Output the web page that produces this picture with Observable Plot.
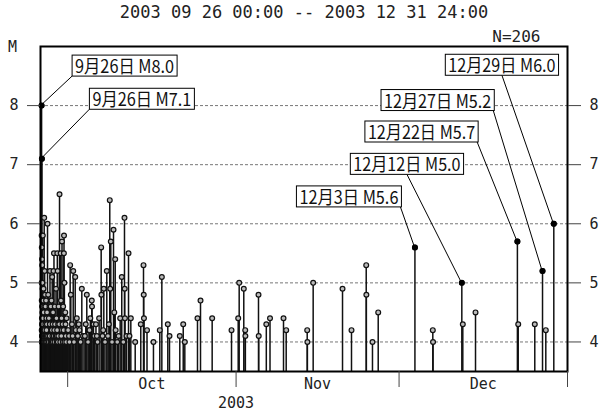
<!DOCTYPE html>
<html><head><meta charset="utf-8">
<script src="https://cdn.jsdelivr.net/npm/d3@7"></script>
<script src="https://cdn.jsdelivr.net/npm/@observablehq/plot@0.6"></script>
<style>body{margin:0;background:#fff} svg{display:block}</style>
</head><body><div id="chart"></div>
<script>
// ---------- data ----------
const titleText = "2003 09 26 00:00 -- 2003 12 31 24:00";
const countText = "N=206";
const yLabel = "M";
const xStart = "2003-09-26T00:00";
const xEnd = "2004-01-01T00:00";
const magTicks = [4, 5, 6, 7, 8];
const monthTickTimes = ["2003-10-01T00:00", "2003-11-01T00:00", "2003-12-01T00:00", "2004-01-01T00:00"];
const monthNames = ["Oct", "Nov", "Dec"];
const monthLabelTimes = ["2003-10-16T12:00", "2003-11-16T00:00", "2003-12-16T12:00"];
const yearLabel = ["2003"];
const yearLabelTime = ["2003-11-01T00:00"];

const quakes = [
["2003-09-26T04:50",8.0],["2003-09-26T05:05",5.8],["2003-09-26T05:15",5.0],["2003-09-26T05:30",4.7],
["2003-09-26T05:45",5.6],["2003-09-26T06:08",7.1],["2003-09-26T06:20",4.4],["2003-09-26T06:40",5.4],
["2003-09-26T07:00",4.6],["2003-09-26T07:20",5.3],["2003-09-26T07:50",4.3],["2003-09-26T08:10",5.0],
["2003-09-26T08:40",4.5],["2003-09-26T09:10",4.9],["2003-09-26T09:40",4.1],["2003-09-26T10:10",5.8],
["2003-09-26T11:00",4.4],["2003-09-26T11:40",4.7],["2003-09-26T12:30",4.2],["2003-09-26T13:20",4.9],
["2003-09-26T14:10",4.5],["2003-09-26T15:00",4.3],["2003-09-26T16:20",6.1],["2003-09-26T17:00",4.6],
["2003-09-26T17:40",4.1],["2003-09-26T18:20",5.2],["2003-09-26T19:10",4.4],["2003-09-26T20:00",4.8],
["2003-09-26T21:00",4.2],["2003-09-26T22:00",4.6],["2003-09-26T23:10",4.3],
["2003-09-26T05:20",4.2],["2003-09-26T05:50",4.0],["2003-09-26T06:30",4.1],["2003-09-26T06:50",4.3],
["2003-09-26T07:10",4.0],["2003-09-26T07:35",4.2],["2003-09-26T08:00",4.1],["2003-09-26T08:25",4.0],
["2003-09-26T09:00",4.2],["2003-09-26T09:25",4.4],["2003-09-26T10:30",4.0],["2003-09-26T11:20",4.2],
["2003-09-26T12:00",4.1],["2003-09-26T13:00",4.0],["2003-09-26T14:40",4.2],["2003-09-26T15:30",4.1],
["2003-09-26T16:40",4.0],["2003-09-26T18:00",4.2],["2003-09-26T19:40",4.1],["2003-09-26T20:30",4.0],
["2003-09-26T21:30",4.3],["2003-09-26T22:30",4.0],["2003-09-26T23:40",4.1],
["2003-09-27T00:30",4.7],["2003-09-27T02:00",4.4],["2003-09-27T03:30",4.1],["2003-09-27T05:00",4.5],
["2003-09-27T07:00",6.0],["2003-09-27T08:30",4.3],["2003-09-27T10:00",4.8],["2003-09-27T11:30",4.2],
["2003-09-27T13:00",4.4],["2003-09-27T14:30",4.0],["2003-09-27T15:50",4.6],["2003-09-27T18:00",5.2],
["2003-09-27T19:30",4.3],["2003-09-27T21:00",4.6],["2003-09-27T22:30",4.1],
["2003-09-27T01:20",4.0],["2003-09-27T02:40",4.2],["2003-09-27T04:20",4.3],["2003-09-27T06:00",4.0],
["2003-09-27T09:20",4.1],["2003-09-27T12:20",4.0],["2003-09-27T16:40",4.1],["2003-09-27T17:20",4.3],
["2003-09-27T20:20",4.0],["2003-09-27T23:40",4.2],
["2003-09-28T00:30",4.7],["2003-09-28T02:00",4.2],["2003-09-28T03:40",5.1],["2003-09-28T05:30",4.3],
["2003-09-28T07:30",4.5],["2003-09-28T09:30",5.2],["2003-09-28T11:30",5.5],["2003-09-28T13:00",4.2],
["2003-09-28T15:00",4.6],["2003-09-28T17:30",4.0],["2003-09-28T20:30",4.9],["2003-09-28T22:30",4.4],
["2003-09-28T01:20",4.0],["2003-09-28T04:30",4.1],["2003-09-28T06:30",4.0],["2003-09-28T10:30",4.1],
["2003-09-28T14:00",4.0],["2003-09-28T16:20",4.3],["2003-09-28T19:00",4.1],["2003-09-28T23:30",4.0],
["2003-09-29T00:30",4.1],["2003-09-29T02:20",5.5],["2003-09-29T03:40",5.2],["2003-09-29T06:00",4.3],
["2003-09-29T08:00",4.6],["2003-09-29T10:00",4.0],["2003-09-29T12:00",6.5],["2003-09-29T14:00",4.2],
["2003-09-29T17:10",5.5],["2003-09-29T18:30",4.7],["2003-09-29T21:00",4.4],["2003-09-29T23:00",5.7],
["2003-09-29T01:30",4.2],["2003-09-29T04:50",4.0],["2003-09-29T07:00",4.1],["2003-09-29T11:00",4.3],
["2003-09-29T15:30",4.0],["2003-09-29T20:00",4.1],["2003-09-29T22:00",4.2],
["2003-09-30T01:30",4.3],["2003-09-30T04:00",4.6],["2003-09-30T07:20",5.5],["2003-09-30T07:50",5.8],
["2003-09-30T09:30",5.0],["2003-09-30T11:00",4.2],["2003-09-30T13:30",4.5],["2003-09-30T16:00",4.1],
["2003-09-30T19:00",4.4],["2003-09-30T22:00",4.0],
["2003-09-30T02:30",4.0],["2003-09-30T06:00",4.2],["2003-09-30T10:00",4.0],["2003-09-30T14:40",4.3],
["2003-09-30T18:00",4.0],["2003-09-30T23:00",4.2],
["2003-10-01T02:00",4.2],["2003-10-01T06:00",4.1],["2003-10-01T08:00",4.0],["2003-10-01T11:00",5.3],
["2003-10-01T14:00",4.8],["2003-10-01T19:00",4.3],["2003-10-01T22:00",4.1],["2003-10-02T00:30",5.2],
["2003-10-02T04:00",4.0],["2003-10-02T09:20",5.1],["2003-10-02T12:00",4.2],["2003-10-02T16:20",4.4],
["2003-10-02T21:00",4.1],["2003-10-03T01:00",4.3],["2003-10-03T04:00",4.2],["2003-10-03T09:00",4.0],
["2003-10-03T14:30",4.9],["2003-10-03T20:00",4.1],["2003-10-04T04:00",4.1],["2003-10-04T08:00",4.3],
["2003-10-04T12:30",4.8],["2003-10-04T18:00",4.0],["2003-10-04T22:00",4.2],["2003-10-05T00:30",4.2],
["2003-10-05T04:00",4.4],["2003-10-05T10:30",4.7],["2003-10-05T11:30",4.6],["2003-10-05T18:00",4.3],
["2003-10-05T22:00",4.1],["2003-10-06T05:00",4.3],["2003-10-06T09:00",4.1],["2003-10-06T12:00",4.0],
["2003-10-06T19:00",4.4],["2003-10-07T04:00",5.6],["2003-10-07T05:00",4.8],["2003-10-07T10:00",4.1],
["2003-10-07T13:00",4.2],["2003-10-07T15:40",4.9],["2003-10-07T21:00",4.0],["2003-10-08T04:50",5.2],
["2003-10-08T10:00",4.1],["2003-10-08T14:00",4.3],["2003-10-08T18:00",6.4],["2003-10-08T20:00",4.9],
["2003-10-08T22:30",5.7],["2003-10-09T04:00",4.0],["2003-10-09T10:30",5.9],["2003-10-09T14:00",4.5],
["2003-10-09T18:00",5.4],["2003-10-09T20:00",4.2],["2003-10-10T03:00",4.0],["2003-10-10T09:00",4.1],
["2003-10-10T16:00",4.4],["2003-10-10T23:00",5.1],["2003-10-11T06:00",4.0],["2003-10-11T11:00",6.1],
["2003-10-11T12:00",4.9],["2003-10-11T13:00",4.4],["2003-10-11T20:00",4.1],["2003-10-12T04:50",5.5],
["2003-10-12T09:00",4.1],["2003-10-12T15:00",4.4],["2003-10-13T10:20",4.0],["2003-10-14T11:00",4.3],
["2003-10-14T23:00",5.3],["2003-10-15T00:00",4.8],["2003-10-15T01:00",4.4],["2003-10-15T14:30",4.2],
["2003-10-16T19:00",4.0],["2003-10-17T23:00",4.2],["2003-10-18T08:00",5.1],["2003-10-19T10:20",4.3],
["2003-10-19T17:50",4.1],["2003-10-21T15:20",4.1],["2003-10-22T06:30",4.3],["2003-10-22T13:30",4.0],
["2003-10-24T21:30",4.4],["2003-10-25T10:50",4.7],["2003-10-27T14:20",4.4],["2003-10-31T03:50",4.2],
["2003-11-01T09:20",4.4],["2003-11-01T13:40",5.0],["2003-11-02T10:00",4.9],["2003-11-02T16:20",4.2],
["2003-11-02T17:00",4.1],["2003-11-05T03:00",4.8],["2003-11-05T04:00",4.1],["2003-11-06T13:30",4.3],
["2003-11-07T05:50",4.4],["2003-11-09T17:30",4.4],["2003-11-10T05:20",4.2],["2003-11-14T02:10",4.2],
["2003-11-14T03:00",4.0],["2003-11-15T04:30",5.0],["2003-11-20T14:10",4.9],["2003-11-22T05:50",4.2],
["2003-11-24T22:50",5.3],["2003-11-24T23:30",4.8],["2003-11-26T02:30",4.0],["2003-11-27T03:50",4.5],
["2003-12-03T22:00",5.6],["2003-12-07T05:00",4.2],["2003-12-07T06:00",4.0],["2003-12-12T13:10",5.0],
["2003-12-12T17:30",4.3],["2003-12-15T01:40",4.5],["2003-12-22T18:40",5.7],["2003-12-22T22:20",4.3],
["2003-12-25T23:30",4.3],["2003-12-27T09:40",5.2],["2003-12-28T00:10",4.2],["2003-12-29T11:30",6.0]
];

const annotTimes = ["2003-09-26T04:50","2003-09-26T06:08","2003-12-03T22:00","2003-12-12T13:10","2003-12-22T18:40","2003-12-27T09:40","2003-12-29T11:30"];
const annotMags = [8.0, 7.1, 5.6, 5.0, 5.7, 5.2, 6.0];
const annotLabels = ["9月26日 M8.0","9月26日 M7.1","12月3日 M5.6","12月12日 M5.0","12月22日 M5.7","12月27日 M5.2","12月29日 M6.0"];
// label layout (pixel offsets of the box's top-left corner from the event point)
const labelDx = [31, 48, -118, -111, -152, -161, -108];
const labelDy = [-50, -70, -61, -129, -120, -181, -169];
const leaderAnchor = ["left","left","right","middle","right","right","middle"];

// ---------- build ----------
const P = s => new Date(s);
const events = quakes.map(([t, m]) => ({date: P(t), mag: m}));
const annots = annotTimes.map((t, i) => ({date: P(t), mag: annotMags[i], label: annotLabels[i]}));
const mono = "'DejaVu Sans Mono', monospace";

const plot = Plot.plot({
  width: 611, height: 414,
  marginTop: 46, marginBottom: 43, marginLeft: 40, marginRight: 44,
  style: {fontFamily: mono, fontSize: "15px", color: "#222", background: "#fff"},
  x: {type: "time", domain: [P(xStart), P(xEnd)]},
  y: {domain: [3.5, 9]},
  marks: [
    Plot.ruleY(magTicks, {stroke: "#777", strokeDasharray: "3,2", strokeWidth: 1}),
    Plot.ruleX(events, {x: "date", y1: 3.5, y2: "mag", stroke: "#111", strokeWidth: 1.5}),
    Plot.dot(events, {x: "date", y: "mag", r: 2.4, fill: "#bbb", stroke: "#111", strokeWidth: 1.2}),
    Plot.dot(annots, {x: "date", y: "mag", r: 2.2, fill: "#000", stroke: "#000"}),
    Plot.frame({stroke: "#000", strokeWidth: 2}),
    Plot.axisY(magTicks, {anchor: "left", tickSize: 13, tickPadding: 9, tickFormat: d => String(d), label: null, stroke: "#444", fontSize: 15}),
    Plot.axisY(magTicks, {anchor: "right", tickSize: 13, tickPadding: 9, tickFormat: d => String(d), label: null, stroke: "#444", fontSize: 15}),
    Plot.axisX(monthTickTimes.map(P), {anchor: "bottom", tickSize: 16, tickFormat: () => "", label: null, stroke: "#444"}),
    Plot.text(monthNames, {x: monthLabelTimes.map(P), text: d => d, frameAnchor: "bottom", lineAnchor: "middle", dy: 13, fontSize: 15}),
    Plot.text(yearLabel, {x: yearLabelTime.map(P), text: d => d, frameAnchor: "bottom", lineAnchor: "middle", dy: 32, fontSize: 15}),
    Plot.text([titleText], {text: d => d, frameAnchor: "top", lineAnchor: "middle", dy: -34, fontSize: 17}),
    Plot.text([countText], {text: d => d, frameAnchor: "top-right", lineAnchor: "middle", textAnchor: "end", dx: -27, dy: -10, fontSize: 16}),
    Plot.text([yLabel], {text: d => d, frameAnchor: "top-left", lineAnchor: "middle", textAnchor: "middle", dx: -28, dy: 1, fontSize: 15})
  ]
});

// annotation boxes and leader lines, positioned through Plot's scales
const xs = plot.scale("x"), ys = plot.scale("y");
const g = d3.select(plot).append("g").attr("class", "annotations").attr("text-anchor", "start");
const boxes = annots.map((a, i) => {
  const px = xs.apply(a.date), py = ys.apply(a.mag);
  const ems = [...a.label].reduce((s, c) => s + (c.charCodeAt(0) > 255 ? 1 : 0.5), 0);
  const tw = ems * 16.5, bw = tw + 6, bh = 21;
  const bx = px + labelDx[i], by = py + labelDy[i];
  const ax = leaderAnchor[i] === "left" ? bx : leaderAnchor[i] === "right" ? bx + bw - 1 : bx + bw / 2;
  return {a, px, py, tw, bw, bh, bx, by, ax};
});
boxes.forEach(b => g.append("line").attr("x1", b.ax).attr("y1", b.by + b.bh).attr("x2", b.px).attr("y2", b.py)
  .attr("stroke", "#000").attr("stroke-width", 1));
boxes.forEach(b => {
  g.append("rect").attr("x", b.bx).attr("y", b.by).attr("width", b.bw).attr("height", b.bh)
    .attr("fill", "#fff").attr("stroke", "#000").attr("stroke-width", 1);
  g.append("text").attr("x", b.bx + 3).attr("y", b.by + 18).attr("text-anchor", "start")
    .attr("textLength", b.tw).attr("lengthAdjust", "spacingAndGlyphs")
    .attr("font-family", "'Noto Sans CJK JP', sans-serif").attr("font-size", 18).attr("fill", "#111")
    .text(b.a.label);
});

document.getElementById("chart").append(plot);
</script>
</body></html>
